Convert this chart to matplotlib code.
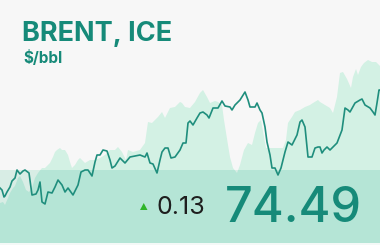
import matplotlib
matplotlib.use("Agg")
import matplotlib.pyplot as plt
from matplotlib.patches import Rectangle, Polygon

# ---- data ------------------------------------------------------------------
# current period, $/bbl
line_days = [0, 2, 4, 5, 7, 10, 12, 15, 17, 20,
             23, 25, 29, 32, 36, 38, 40, 42, 45, 48,
             52, 55, 58, 62, 65, 68, 73, 78, 81, 85,
             88, 92, 95, 97, 100, 103, 107, 110, 112, 115,
             120, 125, 130, 135, 140, 145, 147, 150, 153, 157,
             160, 162, 165, 168, 171, 175, 180, 183, 186, 188,
             190, 193, 197, 200, 203, 207, 209, 213, 218, 222,
             225, 230, 232, 235, 240, 245, 248, 250, 255, 257,
             260, 262, 265, 267, 270, 272, 275, 278, 281, 285,
             288, 292, 297, 300, 302, 305, 308, 312, 315, 318,
             320, 322, 324, 327, 330, 337, 342, 345, 348, 350,
             355, 360, 362, 365, 370, 373, 375, 377, 379, 380]
line_price = [64.69, 64.49, 63.79, 63.89, 64.29, 64.79, 65.39, 65.69, 66.49, 66.09,
              66.39, 66.49, 66.19, 63.99, 64.09, 64.49, 65.29, 63.29, 63.09, 64.29,
              64.19, 64.79, 65.49, 64.99, 64.29, 64.69, 63.99, 64.99, 66.29, 66.49,
              66.49, 65.89, 67.29, 67.99, 67.99, 68.49, 68.39, 67.49, 66.69, 66.89,
              67.69, 67.19, 67.79, 67.89, 67.99, 67.79, 68.19, 67.19, 67.09, 66.19,
              67.49, 68.29, 68.69, 68.69, 67.69, 67.79, 68.49, 69.19, 69.19, 71.19,
              71.39, 70.99, 71.69, 72.19, 72.29, 71.99, 71.69, 72.69, 72.69, 73.39,
              72.89, 72.79, 72.49, 72.99, 73.49, 74.29, 73.49, 72.79, 72.79, 73.19,
              72.49, 72.19, 70.79, 69.29, 67.99, 66.69, 66.69, 65.99, 66.69, 68.29,
              69.29, 68.99, 69.99, 71.29, 71.49, 70.79, 67.79, 67.79, 68.69, 68.79,
              68.79, 68.19, 68.49, 68.79, 68.49, 69.19, 70.49, 72.69, 72.49, 72.29,
              73.19, 73.49, 73.59, 72.99, 72.69, 72.29, 71.99, 73.19, 74.49, 74.49]

# comparison period (shaded area), $/bbl
area_days = [0, 3, 5, 8, 10, 13, 15, 18, 20, 23,
             26, 29, 32, 35, 38, 42, 45, 48, 50, 53,
             55, 57, 60, 62, 65, 68, 70, 72, 75, 78,
             80, 85, 90, 95, 100, 105, 110, 115, 118, 122,
             126, 128, 133, 140, 145, 148, 152, 155, 158, 162,
             165, 170, 175, 180, 182, 185, 190, 195, 200, 203,
             207, 210, 215, 218, 222, 224, 228, 230, 233, 237,
             240, 244, 248, 252, 255, 258, 261, 264, 266, 275,
             283, 286, 288, 292, 295, 300, 305, 310, 313, 318,
             320, 325, 330, 333, 337, 340, 343, 347, 351, 353,
             356, 358, 361, 364, 368, 372, 376, 380]
area_price = [63.19, 63.29, 62.99, 63.69, 64.19, 64.69, 64.89, 65.69, 65.89, 65.29,
              64.49, 64.29, 64.69, 65.69, 66.19, 66.69, 66.69, 66.99, 67.19, 67.79,
              68.29, 68.49, 68.69, 68.49, 68.49, 67.99, 67.29, 66.69, 66.99, 67.49,
              67.69, 67.19, 67.49, 67.49, 67.69, 67.99, 68.49, 68.49, 68.79, 68.29,
              67.49, 68.49, 68.29, 68.49, 69.19, 71.29, 71.19, 71.49, 71.79, 72.29,
              71.69, 72.69, 72.79, 73.29, 73.19, 72.79, 72.69, 73.29, 74.19, 74.49,
              73.79, 73.19, 73.39, 73.29, 72.99, 71.49, 68.99, 67.79, 66.69, 66.19,
              66.99, 68.49, 69.19, 68.99, 70.19, 71.19, 71.49, 69.79, 68.69, 68.69,
              68.69, 69.49, 71.19, 71.79, 72.29, 72.49, 72.79, 72.99, 73.19, 73.49,
              73.29, 72.99, 72.69, 72.19, 73.79, 76.19, 76.29, 75.59, 74.69, 75.79,
              76.59, 75.99, 76.79, 77.19, 77.49, 77.29, 77.29, 76.89]

title = "BRENT, ICE"
unit = "$/bbl"
change = "0.13"
last_price = "74.49"

# ---- palette ---------------------------------------------------------------
BG = "#f7f7f7"
AREA = "#d3f1e4"
BAND_BG = "#d8ede5"
BAND_AREA = "#b5e5d6"
LINE = "#1f8e7d"
TEAL = "#168a79"
UP = "#2fb52a"

fig = plt.figure(figsize=(3.8, 2.45), dpi=100, facecolor=BG)
ax = fig.add_axes([0, 0, 1, 1])
ax.set_facecolor(BG)
ax.set_xlim(0, 380)
ax.set_ylim(58.99, 83.49)
ax.axis("off")

ymin = ax.get_ylim()[0]
ax.fill_between(area_days, area_price, ymin, color=AREA, lw=0, zorder=1)

# bottom quote band
band = Rectangle((0, 2 / 245), 1, 73 / 245, transform=ax.transAxes,
                 facecolor=BAND_BG, edgecolor="none", zorder=2)
ax.add_patch(band)
inner = ax.fill_between(area_days, area_price, ymin, color=BAND_AREA, lw=0,
                        zorder=3)
inner.set_clip_path(band)
ax.add_patch(Rectangle((0, 0), 1, 2 / 245, transform=ax.transAxes,
                       facecolor="#f4f9f7", edgecolor="none", zorder=3))

ax.plot(line_days, line_price, color=LINE, lw=1.2, zorder=4,
        solid_joinstyle="round")

# ---- texts -----------------------------------------------------------------
FONT = "Inter"
fig.text(22 / 380, 1 - 41 / 245, title, fontsize=19.5, fontweight="bold",
         color=TEAL, family=FONT, va="baseline", ha="left")
fig.text(23 / 380, 1 - 63 / 245, unit, fontsize=11, fontweight="bold",
         color=TEAL, family=FONT, va="baseline", ha="left")

tri = [(140 / 380, 1 - 210 / 245), (147.5 / 380, 1 - 210 / 245),
       (143.75 / 380, 1 - 203 / 245)]
fig.patches.append(Polygon(tri, closed=True, transform=fig.transFigure,
                           facecolor=UP, edgecolor="none", zorder=5))
fig.text(156 / 380, 1 - 214 / 245, change, fontsize=18, color="#1e1e1e",
         family=FONT, va="baseline", ha="left")
fig.text(225 / 380, 1 - 222 / 245, last_price, fontsize=35, color=TEAL,
         family=FONT, fontweight="medium", va="baseline", ha="left")

fig.savefig("out.png", dpi=100, facecolor=BG)
